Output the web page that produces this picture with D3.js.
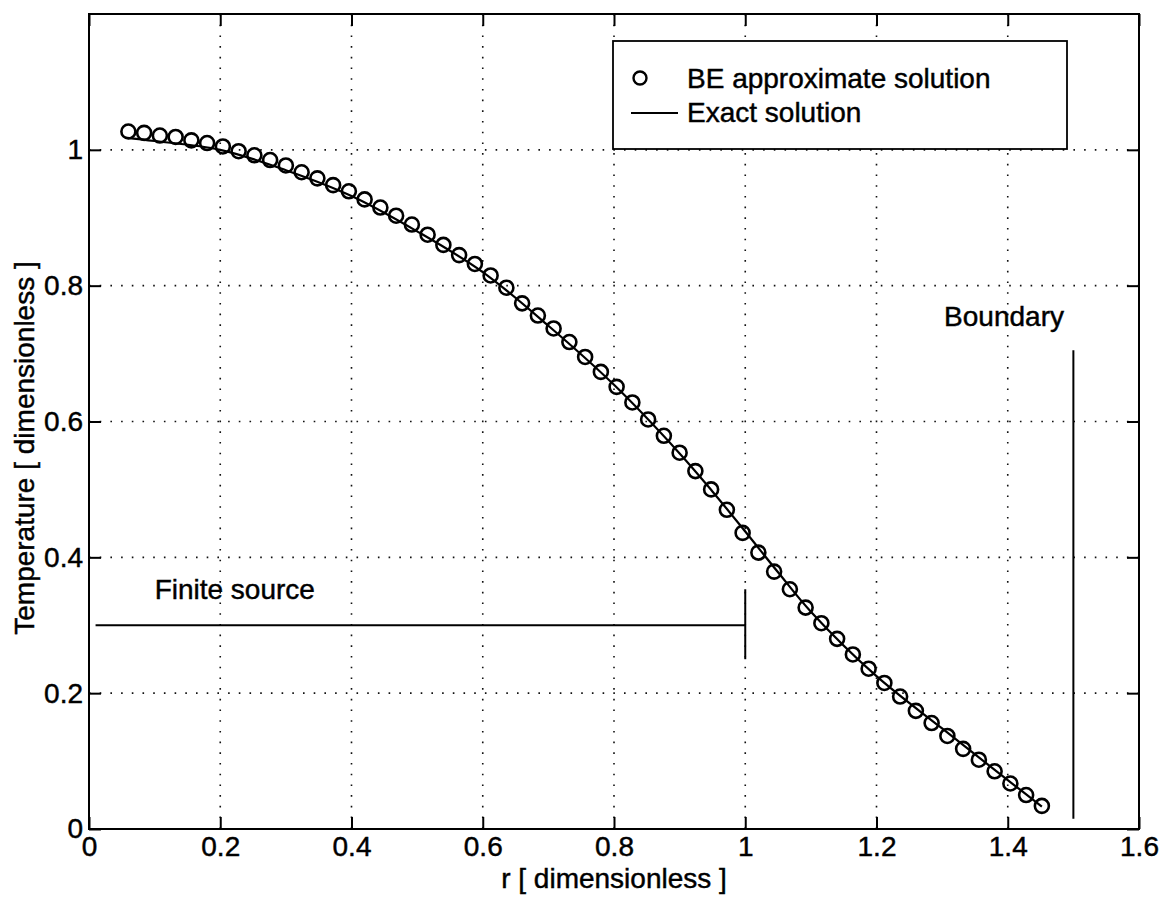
<!DOCTYPE html>
<html lang="en">
  <head>
    <meta charset="utf-8" />
    <title>Temperature vs r</title>

    <script src="https://cdn.jsdelivr.net/npm/d3@7"></script>

    <style type="text/css">
      body {
        margin: 0;
        background: #fff;
      }
      text {
        font-family: "Liberation Sans", Arial, Helvetica, sans-serif;
        fill: #000;
        stroke: #000;
        stroke-width: 0.45;
      }
      .grid line {
        stroke: #111;
        stroke-width: 1.6;
        stroke-dasharray: 1.6 9.1;
      }
    </style>
  </head>

  <body>
    <div id="chart"></div>

    <script type="text/javascript">
      /*******************************************
       * data
       *******************************************/

      // BE approximate solution (circles)
      const beR = [
        0.06, 0.084, 0.108, 0.132, 0.156, 0.18, 0.204, 0.228, 0.252, 0.276,
        0.3, 0.324, 0.348, 0.372, 0.396, 0.42, 0.444, 0.468, 0.492, 0.516,
        0.54, 0.564, 0.588, 0.612, 0.636, 0.66, 0.684, 0.708, 0.732, 0.756,
        0.78, 0.804, 0.828, 0.852, 0.876, 0.9, 0.924, 0.948, 0.972, 0.996,
        1.02, 1.044, 1.068, 1.092, 1.116, 1.14, 1.164, 1.188, 1.212, 1.236,
        1.26, 1.284, 1.308, 1.332, 1.356, 1.38, 1.404, 1.428, 1.452,
      ];
      const beT = [
        1.027, 1.025, 1.021, 1.019, 1.014, 1.01, 1.005, 0.998, 0.992, 0.985,
        0.977, 0.967, 0.958, 0.948, 0.939, 0.927, 0.915, 0.903, 0.89, 0.875,
        0.86, 0.845, 0.832, 0.815, 0.797, 0.774, 0.756, 0.737, 0.717, 0.695,
        0.673, 0.651, 0.628, 0.603, 0.579, 0.554, 0.527, 0.5, 0.47, 0.436,
        0.407, 0.379, 0.353, 0.326, 0.303, 0.28, 0.257, 0.236, 0.215, 0.195,
        0.174, 0.156, 0.137, 0.118, 0.102, 0.085, 0.067, 0.05, 0.034,
      ];

      // exact solution (line)
      const exactR = [
        0.055, 0.1, 0.2, 0.3, 0.4, 0.5, 0.6, 0.7, 0.8, 0.9, 0.95, 1.0, 1.05,
        1.1, 1.2, 1.3, 1.4, 1.452,
      ];
      const exactT = [
        1.018, 1.013, 1.0, 0.97, 0.932, 0.88, 0.82, 0.741, 0.654, 0.553,
        0.497, 0.438, 0.378, 0.32, 0.225, 0.148, 0.072, 0.033,
      ];

      // annotations
      const sourceLine = [[0.01, 0.3], [1.0, 0.3]];
      const sourceTick = [[1.0, 0.25], [1.0, 0.353]];
      const sourceLabel = { text: "Finite source", r: 0.1, t: 0.338 };
      const boundaryLine = [[1.5, 0.015], [1.5, 0.705]];
      const boundaryLabel = { text: "Boundary", r: 1.303, t: 0.741 };

      // ticks
      const xTicks = [0, 0.2, 0.4, 0.6, 0.8, 1, 1.2, 1.4, 1.6];
      const yTicks = [0, 0.2, 0.4, 0.6, 0.8, 1];

      const legendLabels = ["BE approximate solution", "Exact solution"];

      /********************************************
       * create svg
       ********************************************/

      const width = 1166;
      const height = 899;
      const margin = { top: 14, right: 27, bottom: 70, left: 89 };
      const fontSize = 28;

      const svg = d3.select("div#chart").append("svg");
      svg.attr("width", width).attr("height", height);
      svg.append("rect").attr("width", width).attr("height", height).attr("fill", "#fff");

      /*********************************************
       * scale
       **********************************************/

      const xScale = d3
        .scaleLinear()
        .domain([0, 1.6])
        .range([margin.left, width - margin.right]);

      const yScale = d3
        .scaleLinear()
        .domain([0, 1.2])
        .range([height - margin.bottom, margin.top]);

      /*******************************************
       * grid
       *******************************************/

      const grid = svg.append("g").attr("class", "grid");
      grid
        .selectAll("line.gx")
        .data(xTicks.filter((d) => d > 0 && d < 1.6))
        .enter()
        .append("line")
        .attr("x1", (d) => xScale(d))
        .attr("x2", (d) => xScale(d))
        .attr("y1", yScale(1.2))
        .attr("y2", yScale(0));
      grid
        .selectAll("line.gy")
        .data(yTicks.filter((d) => d > 0))
        .enter()
        .append("line")
        .attr("x1", xScale(0))
        .attr("x2", xScale(1.6))
        .attr("y1", (d) => yScale(d))
        .attr("y2", (d) => yScale(d));

      /*******************************************
       * axes (ticks inside, box all round)
       *******************************************/

      const tickLen = -12;
      const styleAxis = (g) => {
        g.select(".domain").remove();
        g.selectAll(".tick line").attr("stroke", "#000").attr("stroke-width", 2);
        g.selectAll(".tick text")
          .attr("font-size", fontSize)
          .attr("font-family", "Liberation Sans, Arial, sans-serif")
          .attr("fill", "#000");
      };

      svg
        .append("g")
        .attr("transform", `translate(0, ${yScale(0)})`)
        .call(d3.axisBottom(xScale).tickValues(xTicks).tickFormat(d3.format("")).tickSize(tickLen).tickPadding(7))
        .call(styleAxis);

      svg
        .append("g")
        .attr("transform", `translate(${xScale(0)}, 0)`)
        .call(d3.axisLeft(yScale).tickValues(yTicks).tickFormat(d3.format("")).tickSize(tickLen).tickPadding(6))
        .call(styleAxis);

      svg
        .append("g")
        .attr("transform", `translate(0, ${yScale(1.2)})`)
        .call(d3.axisTop(xScale).tickValues(xTicks).tickFormat("").tickSize(tickLen))
        .call(styleAxis);

      svg
        .append("g")
        .attr("transform", `translate(${xScale(1.6)}, 0)`)
        .call(d3.axisRight(yScale).tickValues(yTicks).tickFormat("").tickSize(tickLen))
        .call(styleAxis);

      svg
        .append("rect")
        .attr("x", xScale(0))
        .attr("y", yScale(1.2))
        .attr("width", xScale(1.6) - xScale(0))
        .attr("height", yScale(0) - yScale(1.2))
        .attr("fill", "none")
        .attr("stroke", "#000")
        .attr("stroke-width", 2);

      // axis titles
      svg
        .append("text")
        .attr("x", (xScale(0) + xScale(1.6)) / 2)
        .attr("y", 888)
        .attr("text-anchor", "middle")
        .attr("font-size", fontSize)
        .text("r [ dimensionless ]");

      svg
        .append("text")
        .attr("transform", `translate(34, 448) rotate(-90)`)
        .attr("text-anchor", "middle")
        .attr("font-size", fontSize)
        .text("Temperature [ dimensionless ]");

      /*******************************************
       * lines and markers
       *******************************************/

      const line = d3
        .line()
        .x((d) => xScale(d[0]))
        .y((d) => yScale(d[1]))
        .curve(d3.curveCatmullRom);

      svg
        .append("path")
        .datum(exactR.map((r, i) => [r, exactT[i]]))
        .attr("d", line)
        .attr("fill", "none")
        .attr("stroke", "#000")
        .attr("stroke-width", 2.2);

      svg
        .selectAll("circle.be")
        .data(beR.map((r, i) => [r, beT[i]]))
        .enter()
        .append("circle")
        .attr("class", "be")
        .attr("cx", (d) => xScale(d[0]))
        .attr("cy", (d) => yScale(d[1]))
        .attr("r", 7)
        .attr("fill", "none")
        .attr("stroke", "#000")
        .attr("stroke-width", 2.6);

      /*******************************************
       * annotations
       *******************************************/

      const straight = d3.line().x((d) => xScale(d[0])).y((d) => yScale(d[1]));
      [sourceLine, sourceTick, boundaryLine].forEach((seg) => {
        svg
          .append("path")
          .attr("d", straight(seg))
          .attr("fill", "none")
          .attr("stroke", "#000")
          .attr("stroke-width", 2);
      });

      [sourceLabel, boundaryLabel].forEach((lab) => {
        svg
          .append("text")
          .attr("x", xScale(lab.r))
          .attr("y", yScale(lab.t))
          .attr("font-size", fontSize)
          .text(lab.text);
      });

      /*******************************************
       * legend
       *******************************************/

      const legend = svg.append("g").attr("transform", "translate(613, 41)");
      legend
        .append("rect")
        .attr("width", 454)
        .attr("height", 108)
        .attr("fill", "#fff")
        .attr("stroke", "#000")
        .attr("stroke-width", 1.8);

      legend
        .append("circle")
        .attr("cx", 27)
        .attr("cy", 37)
        .attr("r", 6.5)
        .attr("fill", "none")
        .attr("stroke", "#000")
        .attr("stroke-width", 2.4);

      legend
        .append("line")
        .attr("x1", 18)
        .attr("x2", 65)
        .attr("y1", 72)
        .attr("y2", 72)
        .attr("stroke", "#000")
        .attr("stroke-width", 2);

      legend
        .selectAll("text")
        .data(legendLabels)
        .enter()
        .append("text")
        .attr("x", 74)
        .attr("y", (d, i) => 47 + i * 34)
        .attr("font-size", fontSize)
        .text((d) => d);
    </script>
  </body>
</html>
